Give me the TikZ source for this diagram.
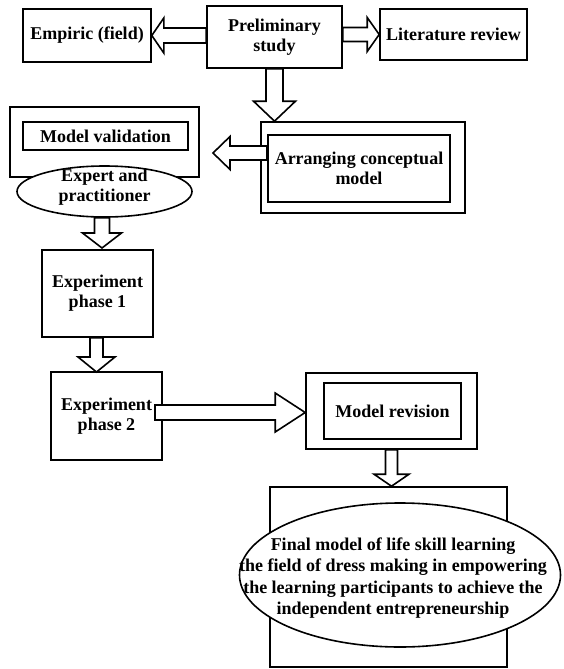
\documentclass[tikz,border=0pt]{standalone}
\usepackage{fontspec}
\setmainfont{Liberation Serif}
\usetikzlibrary{calc,shapes.geometric}
\tikzset{
  lbl/.style={font=\bfseries\fontsize{18}{20}\selectfont, align=center, inner sep=0pt},
  box/.style={draw, line width=1.6pt, inner sep=0pt, lbl},
  inbox/.style={draw, line width=2.4pt, inner sep=0pt, lbl},
  oval/.style={draw, ellipse, line width=1.6pt, fill=white, inner sep=0pt},
  fat/.style={draw, line width=1.6pt, fill=white, line join=miter},
}
% horizontal block arrow: tail, tip, shaft half width, head half width, head length
\newcommand{\harrow}[5]{%
  \path[fat] let \p1=(#1), \p2=(#2), \n1={(\x2-\x1)/abs(\x2-\x1)} in
    (\x1,{\y1+#3pt}) -- ({\x2-\n1*#5pt},{\y1+#3pt}) -- ({\x2-\n1*#5pt},{\y1+#4pt})
    -- (\x2,\y1) -- ({\x2-\n1*#5pt},{\y1-#4pt}) -- ({\x2-\n1*#5pt},{\y1-#3pt})
    -- (\x1,{\y1-#3pt}) -- cycle;}
% vertical block arrow
\newcommand{\varrow}[5]{%
  \path[fat] let \p1=(#1), \p2=(#2), \n1={(\y2-\y1)/abs(\y2-\y1)} in
    ({\x1+#3pt},\y1) -- ({\x1+#3pt},{\y2-\n1*#5pt}) -- ({\x1+#4pt},{\y2-\n1*#5pt})
    -- (\x1,\y2) -- ({\x1-#4pt},{\y2-\n1*#5pt}) -- ({\x1-#3pt},{\y2-\n1*#5pt})
    -- ({\x1-#3pt},\y1) -- cycle;}
\begin{document}
\begin{tikzpicture}[x=1pt, y=-1pt]
\useasboundingbox (0,0) rectangle (563,669);
% top row
\node[box, minimum width=128pt, minimum height=53pt] (empiric) at (87,35.5) {Empiric (field)};
\node[box, minimum width=135pt, minimum height=62pt] (prelim) at (274.5,37) {Preliminary\\study};
\node[box, minimum width=147pt, minimum height=51pt] (lit) at (453.5,34.5) {Literature review};
% model validation
\node[box, minimum width=189pt, minimum height=70pt] (valout) at (104.5,142) {};
\node[inbox, minimum width=165pt, minimum height=28pt] (valin) at (105.5,136) {Model validation};
\node[oval, minimum width=175pt, minimum height=51pt] (expert) at (104.5,191.5) {};
\node[lbl] (experttxt) at (104.5,187) {Expert and\\practitioner};
% arranging conceptual model
\node[box, minimum width=204pt, minimum height=91pt] (arrout) at (363,167.5) {};
\node[inbox, minimum width=182pt, minimum height=67pt] (arrin) at (359,168.5) {Arranging conceptual\\model};
% experiments
\node[box, minimum width=111pt, minimum height=87pt] (exp1) at (97.5,293.5) {Experiment\\phase 1};
\node[box, minimum width=111pt, minimum height=88pt] (exp2) at (106.5,416) {Experiment\\phase 2};
% model revision
\node[box, minimum width=171pt, minimum height=76pt] (revout) at (391.5,411) {};
\node[inbox, minimum width=137pt, minimum height=56pt] (revin) at (392.5,411) {Model revision};
% final model
\node[box, minimum width=237pt, minimum height=180pt] (finalbox) at (388.5,577) {};
\node[oval, minimum width=321pt, minimum height=144pt] (finalov) at (400,575) {};
\node[lbl, font=\bfseries\fontsize{18}{21.5}\selectfont] (finaltxt) at (393,578)
  {Final model of life skill learning\\the field of dress making in empowering\\the learning participants to achieve the\\independent entrepreneurship};
% connectors
\harrow{prelim.west |- empiric.east}{empiric.east}{7.5}{17.5}{12}
\harrow{prelim.east |- lit.west}{lit.west}{7}{17}{12}
\varrow{prelim.south}{prelim.south |- arrout.north}{8.5}{21}{20}
\coordinate (a4tip) at (213,153);
\harrow{arrin.west |- a4tip}{a4tip}{7}{16.5}{17}
\coordinate (a5tip) at (102,248);
\varrow{a5tip |- expert.south}{a5tip}{7.5}{19.5}{15}
\coordinate (a6tip) at (96.5,372);
\varrow{a6tip |- exp1.south}{a6tip}{6.5}{18.5}{15}
\coordinate (a7tail) at (155,412.5);
\harrow{a7tail}{revout.west |- a7tail}{7.5}{19.5}{30}
\varrow{revout.south}{revout.south |- finalbox.north}{6}{17.5}{12}
\end{tikzpicture}
\end{document}
